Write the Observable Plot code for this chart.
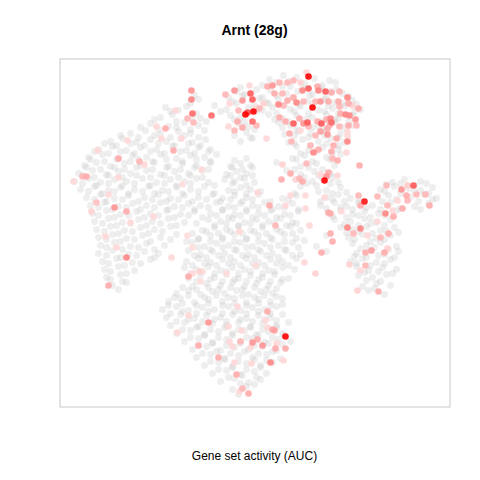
<!DOCTYPE html>
<html>
<head>
<meta charset="utf-8">
<script src="https://cdn.jsdelivr.net/npm/d3@7"></script>
<script src="https://cdn.jsdelivr.net/npm/@observablehq/plot@0.6"></script>
<style>
  html, body { margin: 0; padding: 0; background: #fff; }
  #wrap { width: 480px; height: 480px; position: relative; font-family: "Liberation Sans", Arial, sans-serif; }
  #title { height: 44px; width: 480px; padding-left: 29px; text-align: center; font-weight: bold; font-size: 14px; line-height: 14px; box-sizing: border-box; }
  #title span { position: relative; top: 23px; }
  #caption { text-align: center; font-size: 12px; position: absolute; top: 449px; left: 0; width: 480px; padding-left: 29px; box-sizing: border-box; }
  svg { display: block; }
</style>
</head>
<body>
<div id="wrap">
  <div id="title"><span>Arnt (28g)</span></div>
  <div id="chart"></div>
  <div id="caption">Gene set activity (AUC)</div>
</div>
<script>
// t-SNE coordinates of cells with low gene-set activity (drawn grey)
const greyCells = [
[29,157],[42,155],
[8,147],[22,150],[36,146],[50,149],[68,147],[81,150],
[-18,141],[-10,138],[16,142],[32,139],[43,141],[58,138],[76,141],[88,139],
[-56,133],[-22,131],[5,134],[12,130],[24,133],[52,131],[70,133],[81,130],[98,132],
[-89,125],[-76,122],[-68,126],[-28,123],[-6,125],[8,122],[18,125],[36,123],[46,126],[64,122],[78,124],[90,126],[106,123],
[-94,115],[-82,118],[-54,114],[-24,117],[-14,115],[14,118],[28,114],[42,117],[58,115],[72,118],[84,114],[98,117],
[-104,109],[-86,106],[-70,110],[-56,107],[-16,109],[-6,106],[24,110],[36,107],[50,109],[64,106],[80,110],[98,107],
[-124,99],[-109,102],[-94,98],[-76,101],[-64,99],[-50,102],[-8,100],[30,98],[44,101],[56,99],[68,102],[86,99],
[-144,91],[-132,94],[-118,90],[-104,93],[-88,91],[-74,94],[-62,90],[-49,93],[-14,91],[-2,94],[34,90],[48,93],[64,91],[76,94],[90,90],
[-156,83],[-142,86],[-128,82],[-114,85],[-98,83],[-82,86],[-68,82],[-56,85],[-44,83],[42,86],[54,82],[68,85],[84,83],
[-166,75],[-152,78],[-136,74],[-122,77],[-108,75],[-94,78],[-78,74],[-64,77],[-50,75],[-38,78],[38,74],[50,77],[72,75],[86,78],
[-170,67],[-158,70],[-144,66],[-130,69],[-114,67],[-100,70],[-86,66],[-72,69],[-58,67],[-44,70],[-24,66],[-14,69],[-4,67],[22,70],[46,66],[62,69],[80,67],
[-176,59],[-162,62],[-148,58],[-136,61],[-124,59],[-108,62],[-94,58],[-80,61],[-66,59],[-52,62],[-28,58],[-18,61],[-8,59],[32,62],[46,58],[60,61],[76,59],
[-180,51],[-166,54],[-154,50],[-140,53],[-128,51],[-112,54],[-98,50],[-84,53],[-70,51],[-58,54],[-46,50],[-30,53],[-20,51],[-10,54],[0,50],[42,53],[58,51],[68,54],[84,50],[138,50],[150,53],[166,51],
[-174,43],[-160,46],[-146,42],[-134,45],[-120,43],[-106,46],[-92,42],[-78,45],[-64,43],[-50,46],[-26,42],[-14,45],[-4,43],[46,46],[72,42],[86,45],[126,43],[140,46],[154,44],[166,42],[178,45],
[-168,35],[-154,38],[-140,34],[-126,37],[-110,35],[-96,38],[-84,34],[-70,37],[-56,35],[-42,38],[-32,34],[-20,37],[-8,35],[4,38],[28,34],[42,37],[72,35],[84,38],[96,34],[134,37],[156,35],[170,38],[182,34],
[-164,27],[-150,30],[-136,26],[-122,29],[-108,27],[-94,30],[-80,26],[-66,29],[-54,27],[-38,30],[-26,26],[-14,29],[-2,27],[10,30],[24,26],[38,29],[66,27],[80,30],[92,26],[104,29],[118,27],[136,30],[160,26],[174,29],
[-162,19],[-148,22],[-134,18],[-118,21],[-104,19],[-88,22],[-74,18],[-60,21],[-44,19],[-32,22],[-20,18],[-8,21],[4,19],[16,22],[30,18],[44,21],[74,19],[86,22],[98,18],[110,21],[124,19],[142,22],
[-160,11],[-146,14],[-132,10],[-116,13],[-102,11],[-86,14],[-70,10],[-46,13],[-34,11],[-22,14],[-10,10],[2,13],[14,11],[26,14],[38,10],[80,13],[96,11],[110,14],[122,10],[136,13],
[-158,3],[-144,6],[-130,2],[-114,5],[-100,3],[-84,6],[-52,2],[-40,5],[-28,3],[-16,6],[-4,2],[8,5],[22,3],[36,6],[46,2],[86,5],[98,3],[112,6],[126,2],[140,5],
[-156,-5],[-142,-2],[-128,-6],[-112,-3],[-94,-5],[-78,-2],[-56,-6],[-44,-3],[-32,-5],[-20,-2],[-8,-6],[4,-3],[16,-5],[30,-2],[42,-6],[72,-3],[94,-5],[108,-2],[122,-6],[136,-3],
[-154,-13],[-140,-10],[-124,-14],[-108,-11],[-90,-13],[-62,-10],[-50,-14],[-38,-11],[-26,-13],[-14,-10],[-2,-14],[10,-11],[24,-13],[38,-10],[62,-14],[98,-11],[112,-13],[126,-10],[142,-14],
[-156,-21],[-142,-18],[-126,-22],[-110,-19],[-96,-21],[-66,-18],[-54,-22],[-42,-19],[-30,-21],[-18,-18],[-6,-22],[6,-19],[18,-21],[32,-18],[46,-22],[72,-19],[102,-21],[116,-18],[130,-22],[144,-19],
[-152,-29],[-138,-26],[-122,-30],[-104,-27],[-68,-29],[-56,-26],[-44,-30],[-32,-27],[-20,-29],[-8,-26],[4,-30],[16,-27],[28,-29],[42,-26],[96,-29],[108,-26],[122,-30],[136,-27],
[-150,-37],[-136,-34],[-120,-38],[-70,-35],[-58,-37],[-46,-34],[-34,-38],[-22,-35],[-10,-37],[2,-34],[14,-38],[28,-35],[40,-37],[102,-34],[114,-38],[128,-35],[142,-37],
[-148,-45],[-134,-42],[-66,-46],[-54,-43],[-40,-45],[-28,-42],[-16,-46],[-4,-43],[8,-45],[20,-42],[34,-46],[104,-43],[118,-45],[132,-42],
[-142,-53],[-128,-50],[-62,-54],[-48,-51],[-34,-53],[-22,-50],[-10,-54],[2,-51],[14,-53],[26,-50],[108,-54],[122,-51],[136,-53],
[-78,-61],[-66,-58],[-54,-62],[-42,-59],[-30,-61],[-18,-58],[-6,-62],[6,-59],[18,-61],[114,-58],[130,-62],
[-86,-69],[-74,-66],[-60,-70],[-46,-67],[-32,-69],[-20,-66],[-8,-70],[4,-67],[16,-69],[28,-66],
[-92,-77],[-78,-74],[-66,-78],[-52,-75],[-40,-77],[-26,-74],[-14,-78],[-2,-75],[10,-77],[22,-74],
[-88,-85],[-74,-82],[-60,-86],[-48,-83],[-34,-85],[-22,-82],[-8,-86],[4,-83],[16,-85],[28,-82],
[-84,-93],[-70,-90],[-56,-94],[-42,-91],[-28,-93],[-16,-90],[-4,-94],[8,-91],[22,-93],[34,-90],
[-78,-101],[-64,-98],[-50,-102],[-36,-99],[-22,-101],[-10,-98],[2,-102],[14,-99],[28,-101],
[-70,-109],[-56,-106],[-42,-110],[-28,-107],[-14,-109],[-2,-106],[10,-110],[24,-107],[36,-109],
[-62,-117],[-48,-114],[-34,-118],[-20,-115],[-6,-117],[8,-114],[22,-118],
[-58,-125],[-44,-122],[-30,-126],[-16,-123],[-2,-125],[12,-122],[26,-126],
[-50,-133],[-36,-130],[-22,-134],[-8,-131],[6,-133],[18,-130],
[-42,-141],[-28,-138],[-14,-142],[0,-139],[12,-141],
[-34,-149],[-20,-146],[-6,-150],[6,-147],
[-22,-157],[-8,-154],[-16,-162]
];

// further low-activity cells lying between the ones above
const greyCellsB = [
[15,153],[35,151],[60,154],[75,152],
[-14,145],[2,143],[28,146],[48,144],[66,145],[82,143],
[-60,137],[-26,135],[-12,137],[8,135],[22,137],[38,135],[55,137],[72,135],[94,136],
[-64,129],[-40,127],[-18,129],[0,127],[14,129],[30,127],[44,128],[58,129],[74,127],[88,129],[102,128],
[-84,121],[-58,119],[-34,121],[-10,119],[2,121],[22,119],[40,121],[54,119],[70,121],[84,119],[100,121],
[-100,113],[-78,111],[-62,113],[-48,111],[-20,113],[-10,111],[20,113],[34,111],[52,113],[66,111],[80,113],[94,111],
[-114,105],[-96,103],[-78,105],[-64,103],[-12,105],[0,103],[28,105],[42,103],[58,105],[72,103],[90,105],
[-134,97],[-116,95],[-100,97],[-84,95],[-70,97],[-56,95],[-20,97],[-4,95],[40,97],[54,95],[70,97],[84,95],
[-150,89],[-138,87],[-124,89],[-110,87],[-96,89],[-80,87],[-66,89],[-54,87],[40,89],[56,87],[72,89],[84,87],
[-160,81],[-146,79],[-134,81],[-120,79],[-104,81],[-90,79],[-74,81],[-60,79],[-46,81],[46,79],[62,81],[78,79],
[-164,73],[-150,71],[-138,73],[-124,71],[-116,73],[-102,71],[-88,73],[-72,71],[-58,73],[-44,71],[-20,72],[-8,74],[42,73],[58,71],[76,73],
[-168,65],[-154,63],[-140,65],[-130,63],[-118,65],[-102,63],[-88,65],[-74,63],[-60,65],[-46,63],[-22,65],[-12,63],[-2,65],[40,63],[54,65],[68,63],
[-172,57],[-160,55],[-146,57],[-132,55],[-118,57],[-104,55],[-90,57],[-76,55],[-64,57],[-52,55],[-24,57],[-14,55],[-2,57],[50,55],[64,57],[78,55],
[-172,49],[-158,47],[-146,49],[-132,47],[-120,49],[-104,47],[-90,49],[-78,47],[-64,49],[-40,47],[-22,49],[-8,47],[52,49],[62,47],[76,49],[132,48],[146,49],[160,47],[172,49],
[-166,41],[-152,39],[-140,41],[-126,39],[-112,41],[-100,39],[-86,41],[-72,39],[-56,41],[-40,39],[-20,41],[-8,39],[6,41],[40,39],[64,41],[78,39],[92,40],[130,41],[146,39],[160,41],[174,39],
[-160,33],[-148,31],[-132,33],[-116,31],[-102,33],[-88,31],[-76,33],[-62,31],[-48,33],[-34,31],[-24,33],[-12,31],[-2,33],[16,31],[34,33],[66,31],[78,33],[90,31],[104,33],[128,31],[142,33],[164,31],[178,33],
[-156,25],[-142,23],[-128,25],[-114,23],[-100,25],[-86,23],[-72,25],[-60,23],[-46,25],[-32,23],[-20,25],[-8,23],[4,25],[18,23],[30,25],[44,23],[72,24],[86,25],[98,23],[112,25],[126,23],[146,24],[166,23],
[-156,17],[-140,15],[-126,17],[-110,15],[-96,17],[-80,15],[-66,17],[-52,15],[-38,17],[-26,15],[-14,17],[-2,15],[10,17],[22,15],[36,17],[78,16],[92,15],[104,17],[116,15],[130,17],
[-152,9],[-138,7],[-124,9],[-108,7],[-94,9],[-78,7],[-58,9],[-40,7],[-28,9],[-16,7],[-4,9],[8,7],[20,9],[32,7],[42,9],[90,8],[104,7],[116,9],[130,7],
[-150,1],[-136,-1],[-122,1],[-106,-1],[-92,1],[-62,-1],[-48,1],[-36,-1],[-24,1],[-12,-1],[0,1],[12,-1],[26,1],[38,-1],[92,0],[104,1],[118,-1],[132,1],[144,0],
[-148,-7],[-134,-9],[-120,-7],[-104,-9],[-84,-7],[-68,-9],[-56,-7],[-44,-9],[-32,-7],[-20,-9],[-8,-7],[4,-9],[18,-7],[30,-9],[50,-8],[100,-7],[116,-9],[130,-7],
[-148,-15],[-132,-17],[-116,-15],[-100,-17],[-56,-15],[-44,-17],[-32,-15],[-20,-17],[-8,-15],[4,-17],[16,-15],[30,-17],[44,-15],[106,-16],[120,-15],[134,-17],
[-148,-23],[-134,-25],[-118,-23],[-100,-25],[-60,-23],[-48,-25],[-36,-23],[-24,-25],[-12,-23],[0,-25],[12,-23],[24,-25],[38,-23],[100,-24],[112,-25],[124,-23],[140,-25],
[-146,-31],[-130,-33],[-114,-31],[-62,-33],[-50,-31],[-38,-33],[-26,-31],[-14,-33],[-2,-31],[10,-33],[22,-31],[34,-33],[102,-31],[116,-33],[130,-31],
[-144,-39],[-128,-41],[-64,-41],[-52,-39],[-40,-41],[-28,-39],[-16,-41],[-4,-39],[8,-41],[20,-39],[110,-40],[124,-39],[138,-41],
[-144,-47],[-132,-49],[-58,-49],[-44,-47],[-32,-49],[-20,-47],[-8,-49],[4,-47],[16,-49],[28,-47],[112,-48],[126,-49],
[-136,-57],[-72,-55],[-58,-57],[-46,-55],[-36,-57],[-24,-55],[-12,-57],[0,-55],[12,-57],[22,-56],[120,-56],
[-80,-65],[-66,-63],[-50,-65],[-38,-63],[-26,-65],[-12,-63],[0,-65],[10,-63],[22,-64],
[-86,-73],[-72,-71],[-58,-73],[-46,-71],[-32,-73],[-20,-71],[-8,-73],[4,-71],[16,-73],[28,-72],
[-84,-81],[-72,-79],[-58,-81],[-46,-79],[-32,-81],[-20,-79],[-8,-81],[4,-79],[16,-81],
[-78,-89],[-66,-87],[-52,-89],[-40,-87],[-28,-89],[-14,-87],[-2,-89],[10,-87],[22,-88],
[-72,-97],[-58,-95],[-44,-97],[-30,-95],[-16,-97],[-4,-95],[8,-97],[22,-95],
[-64,-105],[-50,-103],[-36,-105],[-22,-103],[-8,-105],[4,-103],[18,-105],[30,-103],
[-56,-113],[-42,-111],[-28,-113],[-14,-111],[0,-113],[14,-111],[28,-112],
[-52,-121],[-38,-119],[-24,-121],[-10,-119],[4,-121],[18,-119],
[-44,-129],[-30,-127],[-16,-129],[0,-127],[12,-128],
[-36,-137],[-22,-135],[-8,-137],[6,-135],
[-26,-145],[-12,-143],[2,-145],
[-14,-151],[0,-152]
];

// t-SNE coordinates and AUC (relative, 0-1) of cells with gene-set activity
const activeCells = [
[-63,142,0.55],[-63,133,0.6],[-62,119,0.7],[-67,114,0.4],[-61,110,0.4],[-43,117,0.7],[-29,138,0.4],[-20,142,0.55],
[-4,139,0.75],[-2,133,0.75],[-12,132,0.55],[-16,122,0.4],[-9,118,1.0],[-1,121,1.0],[-7,120,0.8],[-2,111,0.7],
[-17,111,0.45],[-12,105,0.45],[-20,102,0.4],[-26,106,0.2],[-25,129,0.2],[-5,147,0.2],[-89,104,0.45],[-98,106,0.2],
[-79,122,0.2],[-93,94,0.2],[-81,82,0.45],[-136,74,0.45],[-115,71,0.4],[-110,68,0.2],[-172,56,0.4],[-168,56,0.45],
[-181,51,0.2],[-157,82,0.2],[-127,92,0.2],[-136,55,0.2],[-146,38,0.2],[-158,30,0.35],[-163,21,0.25],[-140,25,0.55],
[-128,21,0.45],[-101,16,0.2],[-124,10,0.2],[-72,48,0.15],[-53,63,0.2],[-15,1,0.2],[3,40,0.2],[-73,94,0.2],
[-149,-4,0.2],[-138,-15,0.2],[-128,-25,0.6],[-146,-53,0.45],[-83,-25,0.2],[-66,-44,0.45],[-55,-39,0.25],[-62,-41,0.2],
[-28,-41,0.15],[-67,-3,0.15],[-62,-15,0.15],[-54,-49,0.15],[-17,-74,0.2],[-66,-83,0.2],[-46,-90,0.55],[-77,-100,0.2],
[-26,-94,0.2],[-13,-98,0.2],[3,-107,0.45],[-2,-110,0.55],[-14,-109,0.4],[-25,-109,0.2],[-4,-115,0.2],[-22,-114,0.2],
[-56,-113,0.45],[-36,-125,0.45],[-20,-130,0.2],[-3,-131,0.2],[-18,-142,0.45],[-12,-156,0.4],[-6,-161,0.45],[-15,-159,0.2],
[-52,-39,0.15],[1,-33,0.15],
[78,-9,0.45],[67,-20,0.45],[50,-30,0.2],[61,-41,0.25],[95,-32,0.25],[111,-20,0.45],[117,-18,0.5],[130,-20,0.45],
[126,-5,0.4],[134,-1,0.45],[111,-33,0.4],[106,-38,0.2],[103,-58,0.25],[124,-59,0.45],[99,-1,0.4],[113,-3,0.2],
[133,-16,0.25],[13,-79,0.45],[11,-88,0.2],[18,-97,0.45],[20,-98,0.5],[31,-104,1.0],[8,-113,0.55],[21,-116,0.45],
[31,-116,0.45],[16,-130,0.6],[29,-128,0.2],[22,-111,0.2],[13,-95,0.2],
[54,156,1.0],[52,160,0.2],[18,147,0.55],[25,150,0.4],[13,146,0.45],[33,150,0.4],[39,152,0.4],[46,150,0.25],
[48,142,0.6],[54,144,0.75],[64,142,0.6],[63,146,0.45],[71,141,0.75],[77,140,0.45],[85,141,0.4],[93,135,0.6],
[94,129,0.45],[98,127,0.25],[104,124,0.45],[101,113,0.55],[102,107,0.4],[95,117,0.6],[91,118,0.6],[86,119,0.45],
[85,126,0.4],[84,131,0.45],[74,131,0.45],[66,131,0.55],[61,131,0.4],[58,125,1.0],[49,131,0.4],[42,130,0.6],
[33,132,0.45],[29,127,0.4],[24,128,0.6],[20,139,0.45],[28,139,0.4],[39,135,0.45],[9,129,0.25],[2,125,0.2],
[5,124,0.4],[2,107,0.4],[25,115,0.45],[31,111,0.45],[39,109,0.75],[45,114,0.45],[49,109,0.55],[53,110,0.75],
[54,106,0.4],[63,111,0.45],[67,109,0.75],[72,113,0.45],[76,114,0.6],[77,110,0.7],[75,107,0.4],[85,106,0.4],
[94,107,0.45],[93,101,0.2],[73,104,0.45],[66,101,0.5],[46,102,0.2],[35,99,0.45],[61,97,0.4],[73,98,0.55],
[82,94,0.45],[93,97,0.2],[93,91,0.6],[79,87,0.45],[56,87,0.4],[64,83,0.45],[59,80,0.6],[77,81,0.45],
[92,80,0.2],[37,91,0.4],[12,94,0.2],[83,72,0.45],[78,74,0.4],[52,69,0.4],[28,68,0.25],[36,59,0.45],
[27,53,0.45],[45,54,0.4],[66,58,0.2],[74,60,0.45],[72,56,0.55],[83,57,0.2],[70,52,1.0],[105,67,0.45],
[41,53,0.2],[48,51,0.45],[36,37,0.2],[51,37,0.2],[51,24,0.2],[74,20,0.45],
[132,47,0.4],[153,47,0.3],[159,47,0.75],[147,43,0.55],[152,37,0.45],[162,38,0.4],[171,38,0.4],[175,27,0.45],
[153,32,0.4],[148,24,0.45],[143,32,0.2],[133,27,0.4],[110,31,0.95],[104,37,0.4],[123,36,0.4],[106,27,0.45],
[131,19,0.6],[139,16,0.45],[138,22,0.2],[123,11,0.2],[93,5,0.6],[106,4,0.6],[76,19,0.45],[87,21,0.2],
[70,35,0.2],[15,27,0.45],[31,27,0.2],[21,7,0.4],[55,7,0.2],[76,-1,0.45]
];

const greyData = greyCells.concat(greyCellsB).map(([x, y]) => ({x, y}));
const activeData = activeCells.map(([x, y, auc]) => ({x, y, auc})).sort((a, b) => a.auc - b.auc);

const chart = Plot.plot({
  width: 480,
  height: 376,
  marginTop: 14.5,
  marginBottom: 13.5,
  marginLeft: 59.5,
  marginRight: 30.5,
  x: {domain: [-194.5, 195.5], axis: null},
  y: {domain: [-174.5, 173.5], axis: null},
  color: {type: "pow", exponent: 1.7, domain: [0, 1], range: ["#ffe6e6", "#ff0000"]},
  marks: [
    Plot.frame({stroke: "#c8c8c8"}),
    Plot.dot(greyData, {x: "x", y: "y", r: 3.4, fill: "#bdbdbd", fillOpacity: 0.26, stroke: "none"}),
    Plot.dot(activeData, {x: "x", y: "y", r: 3.3, fill: "auc", fillOpacity: 0.9, stroke: "none"})
  ]
});
document.getElementById("chart").appendChild(chart);
</script>
</body>
</html>
